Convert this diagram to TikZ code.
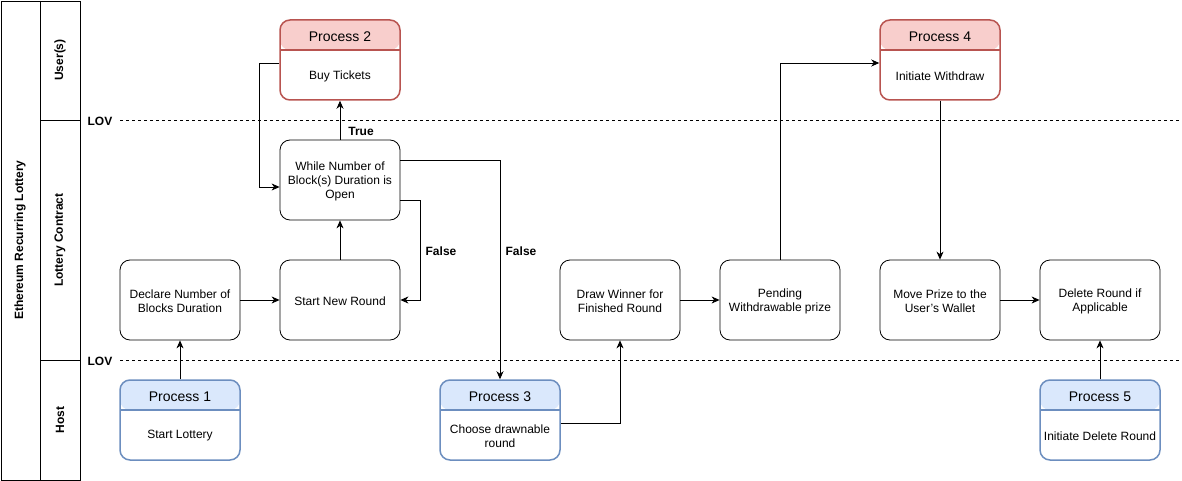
\documentclass[tikz,border=0pt]{standalone}
\usepackage{fontspec}
\setmainfont{Liberation Sans}
\usepackage{tikz}
\usetikzlibrary{arrows.meta,positioning}
\definecolor{redfill}{HTML}{F8CECC}
\definecolor{redline}{HTML}{B85450}
\definecolor{bluefill}{HTML}{DAE8FC}
\definecolor{blueline}{HTML}{6C8EBF}
\newcommand{\txtsize}{\fontsize{12}{14}\selectfont}
\newcommand{\ttlsize}{\fontsize{14}{16}\selectfont}
\tikzstyle{stepbox} = [draw, line width=0.8pt, rounded corners=10pt, minimum width=120pt, minimum height=80pt]
\tikzstyle{steptext} = [font=\txtsize, align=center, inner sep=0pt]
\tikzstyle{procbox} = [rounded corners=10pt, line width=1.5pt, minimum width=120pt, minimum height=80pt, fill=white]
\tikzstyle{procred} = [procbox, draw=redline, path picture={%
	\fill[redfill] (path picture bounding box.north west) rectangle ([yshift=-30pt]path picture bounding box.north east);
	\draw[redline, line width=1.5pt] ([yshift=-30pt]path picture bounding box.north west) -- ([yshift=-30pt]path picture bounding box.north east);}]
\tikzstyle{procblue} = [procbox, draw=blueline, path picture={%
	\fill[bluefill] (path picture bounding box.north west) rectangle ([yshift=-30pt]path picture bounding box.north east);
	\draw[blueline, line width=1.5pt] ([yshift=-30pt]path picture bounding box.north west) -- ([yshift=-30pt]path picture bounding box.north east);}]
\tikzstyle{proctitle} = [font=\ttlsize, inner sep=0pt]
\tikzstyle{proctext} = [font=\txtsize, align=center, inner sep=0pt]
\tikzstyle{lanelabel} = [rotate=90, font=\bfseries\txtsize]
\tikzstyle{flow} = [-{Stealth[length=8pt,width=7pt,inset=2.5pt]}, line width=0.8pt]
\tikzstyle{cond} = [font=\bfseries\txtsize]
\begin{document}
\begin{tikzpicture}[x=1pt, y=-1pt]
					\useasboundingbox (0,0) rectangle (1182,481);
					\draw[line width=0.8pt] (1,1) rectangle (80,480);
					\draw[line width=0.8pt] (40,1) -- (40,480);
					\draw[line width=0.8pt] (40,120) -- (80,120);
					\draw[line width=0.8pt] (40,360) -- (80,360);
					\node[lanelabel] (lottery) at (20,240) {Ethereum Recurring Lottery};
					\node[lanelabel] (users) at (60,60) {User(s)};
					\node[lanelabel] (contract) at (60,240) {Lottery Contract};
					\node[lanelabel] (host) at (60,420) {Host};
					\node[cond] (lovtop) at (100,121) {LOV};
					\node[cond] (lovbot) at (100,361) {LOV};
					\draw[dashed, dash pattern=on 3pt off 3pt] (120,120) -- (1182,120);
					\draw[dashed, dash pattern=on 3pt off 3pt] (120,360) -- (1182,360);

					\node[stepbox] (declare) at (180,300) {};
					\node[steptext] (declaret) at (180,301) {Declare Number of\\Blocks Duration};
					\node[stepbox] (newround) at (340,300) {};
					\node[steptext] (newroundt) at (340,301) {Start New Round};
					\node[stepbox] (while) at (340,180) {};
					\node[steptext] (whilet) at (340,181) {While Number of\\Block(s) Duration is\\Open};
					\node[stepbox] (winner) at (620,300) {};
					\node[steptext] (winnert) at (620,301) {Draw Winner for\\Finished Round};
					\node[stepbox] (pending) at (780,300) {};
					\node[steptext] (pendingt) at (780,301) {Pending\\Withdrawable prize};
					\node[stepbox] (move) at (940,300) {};
					\node[steptext] (movet) at (940,301) {Move Prize to the\\User's Wallet};
					\node[stepbox] (delete) at (1100,300) {};
					\node[steptext] (deletet) at (1100,301) {Delete Round if\\Applicable};

					\node[procblue] (p1) at (180,420) {};
					\node[proctitle] (p1t) at (180,396.5) {Process 1};
					\node[proctext] (p1b) at (180,436) {Start Lottery};
					\node[procred] (p2) at (340,60) {};
					\node[proctitle] (p2t) at (340,36.5) {Process 2};
					\node[proctext] (p2b) at (340,76) {Buy Tickets};
					\node[procblue] (p3) at (500,420) {};
					\node[proctitle] (p3t) at (500,396.5) {Process 3};
					\node[proctext] (p3b) at (500,436) {Choose drawnable\\round};
					\node[procred] (p4) at (940,60) {};
					\node[proctitle] (p4t) at (940,36.5) {Process 4};
					\node[proctext] (p4b) at (940,76) {Initiate Withdraw};
					\node[procblue] (p5) at (1100,420) {};
					\node[proctitle] (p5t) at (1100,396.5) {Process 5};
					\node[proctext] (p5b) at (1100,436) {Initiate Delete Round};

					\draw[flow] (p1.north) -- (declare.south);
					\draw[flow] (declare.east) -- (newround.west);
					\draw[flow] (newround.north) -- (while.south);
					\draw[flow] (while.north) -- (p2.south);
					\node[cond] (true) at (361,131) {True};
					\draw[flow] ([yshift=-3pt]p2.west) -- ++(-20,0) |- ([yshift=-7pt]while.west);
					\draw[flow] ([yshift=-20pt]while.east) -- ++(20,0) |- (newround.east);
					\node[cond] (false1) at (441,251) {False};
					\draw[flow] ([yshift=20pt]while.east) -| (p3.north);
					\node[cond] (false2) at (521,251) {False};
					\draw[flow] ([yshift=-3pt]p3.east) -| (winner.south);
					\draw[flow] (winner.east) -- (pending.west);
					\draw[flow] (pending.north) |- ([yshift=-3pt]p4.west);
					\draw[flow] (p4.south) -- (move.north);
					\draw[flow] (move.east) -- (delete.west);
					\draw[flow] (p5.north) -- (delete.south);
\end{tikzpicture}
\end{document}
